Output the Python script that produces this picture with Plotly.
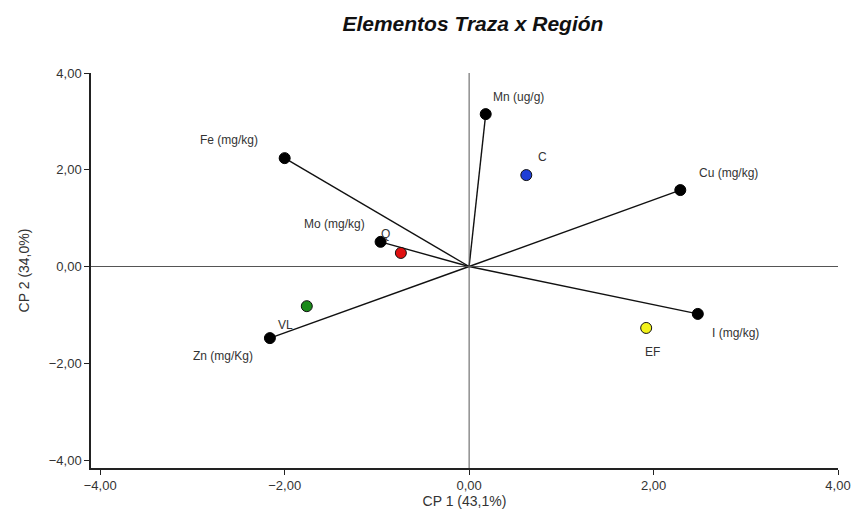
import plotly.graph_objects as go

# Variables (loadings)
var_names = ["Mn (ug/g)", "Fe (mg/kg)", "Cu (mg/kg)", "I (mg/kg)", "Zn (mg/Kg)", "Mo (mg/kg)"]
var_x = [0.18, -2.00, 2.29, 2.48, -2.16, -0.96]
var_y = [3.15, 2.24, 1.58, -0.98, -1.48, 0.51]

# Sites (scores)
site_names = ["C", "Q", "VL", "EF"]
site_x = [0.62, -0.74, -1.76, 1.92]
site_y = [1.89, 0.28, -0.82, -1.27]
site_colors = ["#1f3fd6", "#e01010", "#1a8a1a", "#f2f21a"]

tick_vals = [-4, -2, 0, 2, 4]

var_label_shift = [(33, 17), (-56, 18), (48, 17), (38, -19), (-47, -18), (-46, 18)]
site_label_shift = [(16, 18), (-15, 19), (-21, -19), (6, -24)]

fig = go.Figure()

for vx, vy in zip(var_x, var_y):
    fig.add_trace(go.Scatter(x=[0, vx], y=[0, vy], mode="lines",
                             line=dict(color="#111111", width=1.4),
                             hoverinfo="skip", showlegend=False))

fig.add_trace(go.Scatter(x=var_x, y=var_y, mode="markers",
                         marker=dict(color="black", size=11, line=dict(color="black", width=1)),
                         text=var_names, showlegend=False))
fig.add_trace(go.Scatter(x=site_x, y=site_y, mode="markers",
                         marker=dict(color=site_colors, size=11, line=dict(color="#111111", width=1)),
                         text=site_names, showlegend=False))

font = dict(family="Liberation Sans, Arial, sans-serif", size=12, color="#333333")
for name, x, y, (dx, dy) in zip(var_names, var_x, var_y, var_label_shift):
    fig.add_annotation(x=x, y=y, text=name, showarrow=False, xshift=dx, yshift=dy, font=font)
for name, x, y, (dx, dy) in zip(site_names, site_x, site_y, site_label_shift):
    fig.add_annotation(x=x, y=y, text=name, showarrow=False, xshift=dx, yshift=dy, font=font)

fig.add_hline(y=0, line=dict(color="#555555", width=1))
fig.add_vline(x=0, line=dict(color="#555555", width=1))

tickfont = dict(family="Liberation Sans, Arial, sans-serif", size=13, color="#333333")
fig.update_layout(
    width=863, height=519,
    margin=dict(l=91, r=18, t=73, b=51),
    plot_bgcolor="white", paper_bgcolor="white",
    separators=",.",
    font=font,
    title=dict(text="<b><i>Elementos Traza x Región</i></b>", x=0.548, xanchor="center",
               y=0.955, yanchor="middle",
               font=dict(family="Liberation Sans, Arial, sans-serif", size=21, color="#111111")),
    xaxis=dict(range=[-4.1, 4.0], tickvals=tick_vals, tickformat=".2f", tickfont=tickfont,
               showgrid=False, zeroline=False, showline=True, linecolor="#222222", linewidth=1.5,
               ticks="outside", ticklen=5, tickcolor="#222222",
               title=dict(text="CP 1 (43,1%)", standoff=3, font=dict(size=14))),
    yaxis=dict(range=[-4.165, 4.0], tickvals=tick_vals, tickformat=".2f", tickfont=tickfont,
               showgrid=False, zeroline=False, showline=True, linecolor="#222222", linewidth=1.5,
               ticks="outside", ticklen=5, tickcolor="#222222",
               title=dict(text="CP 2 (34,0%)", standoff=16, font=dict(size=14))),
)

fig.write_html("out.html")
